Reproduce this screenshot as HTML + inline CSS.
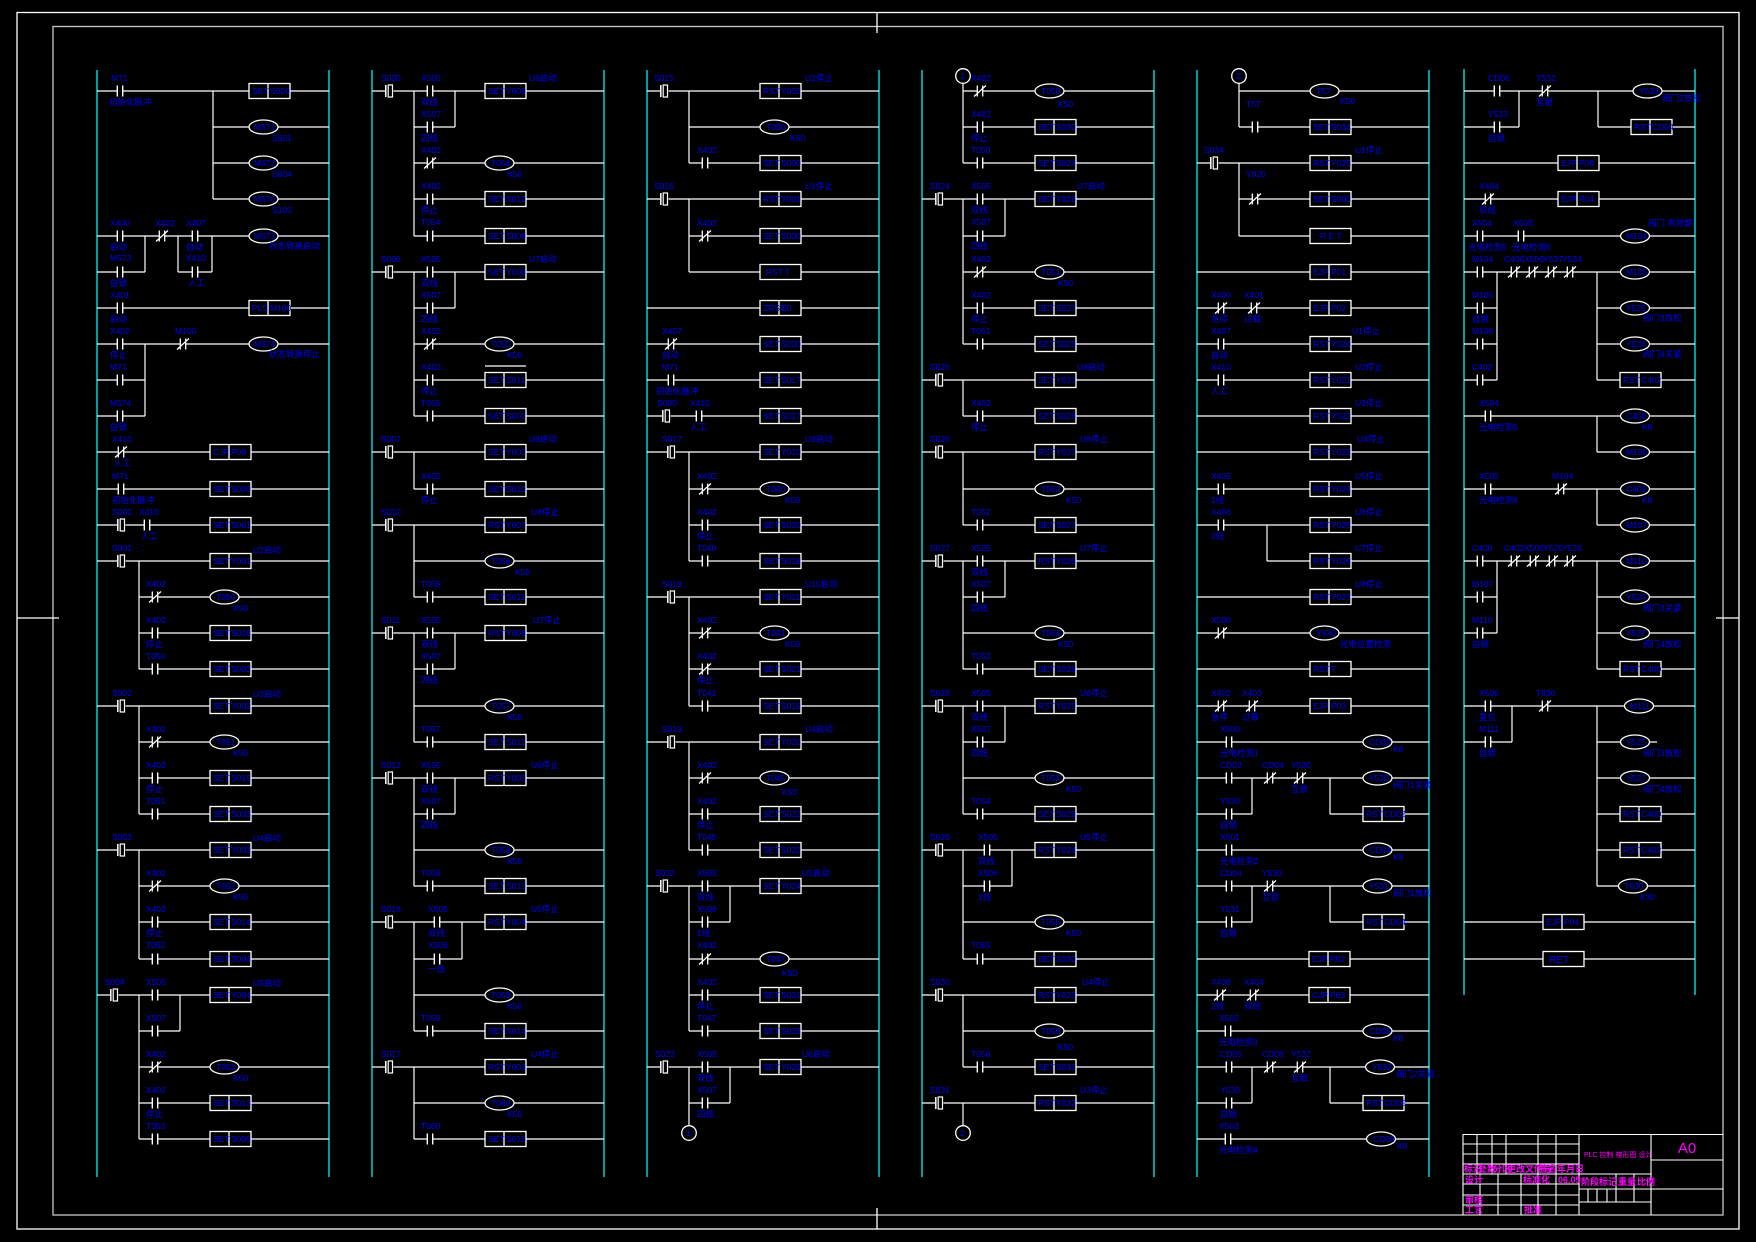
<!DOCTYPE html>
<html><head><meta charset="utf-8"><style>
html,body{margin:0;padding:0;background:#000;}
svg{display:block;}
text{font-family:"Liberation Sans","Noto Sans CJK SC",sans-serif;}
</style></head><body>
<svg width="1756" height="1242" viewBox="0 0 1756 1242" xmlns="http://www.w3.org/2000/svg">
<defs>
<g id="no"><rect x="-3" y="-1.6" width="6" height="3.2" fill="#000"/><path d="M-2.7 -5.5V5.5M2.7 -5.5V5.5" stroke="#fff" stroke-width="1.4"/></g>
<g id="nc"><rect x="-3" y="-1.6" width="6" height="3.2" fill="#000"/><path d="M-2.7 -5.5V5.5M2.7 -5.5V5.5M-6 5.5L6 -5.5" stroke="#fff" stroke-width="1.3"/></g>
<g id="pu"><rect x="-4" y="-1.6" width="8.5" height="3.2" fill="#000"/><path d="M-3.2 -6V6" stroke="#fff" stroke-width="1.5"/><rect x="-0.8" y="-6" width="4.3" height="12" fill="#000" stroke="#fff" stroke-width="1.2"/></g>
<g id="bx"><rect x="0" y="-7.5" width="41" height="15" fill="#000" stroke="#fff" stroke-width="1.3"/><path d="M19 -7.5V7.5" stroke="#fff" stroke-width="1.3"/></g>
<g id="bx0"><rect x="0" y="-7.5" width="41" height="15" fill="#000" stroke="#fff" stroke-width="1.3"/></g>
<ellipse id="el" cx="0" cy="0" rx="14.5" ry="7" fill="#000" stroke="#fff" stroke-width="1.3"/>
</defs>
<rect width="1756" height="1242" fill="#000"/>
<!-- borders -->
<rect x="17" y="12.5" width="1722" height="1216.5" fill="none" stroke="#fff" stroke-width="1.3"/>
<rect x="53" y="26.5" width="1670" height="1188.5" fill="none" stroke="#c8c8c8" stroke-width="1.3"/>
<path d="M877 12V33M877 1208V1229M17 618H59M1716 618H1739" stroke="#fff" stroke-width="1.3"/>

<!-- rails -->
<path d="M97 70V1177M329 70V1177M372 70V1177M604 70V1177M647 70V1177M879 70V1177M922 70V1177M1154 70V1177M1197 70V1177M1429 70V1177M1464 69V995M1695 69V995" stroke="#00e0e8" stroke-width="1.4"/>

<!-- rung lines -->
<path fill="none" stroke="#fff" stroke-width="1.2" d="
M97 91H329M213 91V199M213 127H329M213 163H329M213 199H329
M97 236H329M97 272H145M145 236V272M178 236V272M178 272H212M212 236V272
M97 308H329
M97 344H329M97 380H145M97 416H145M145 344V416
M97 452H329M97 489H329M97 525H329
M97 561H329M139 561V669M139 597H329M139 633H329M139 669H329
M97 706H329M139 706V814M139 742H329M139 778H329M139 814H329
M97 850H329M139 850V959M139 886H329M139 922H329M139 959H329
M97 995H329M139 995V1139M180 995V1031M139 1031H180M139 1067H329M139 1103H329M139 1139H329

M372 91H604M414 91V236M455 91V127M414 127H455M414 163H604M414 199H604M414 236H604
M372 272H604M414 272V416M455 272V308M414 308H455M414 344H604M414 380H604M414 416H604M485 366H526
M372 452H604M414 452V489M414 489H604
M372 525H604M414 525V597M414 561H604M414 597H604
M372 633H604M414 633V742M455 633V669M414 669H455M414 706H604M414 742H604
M372 778H604M414 778V886M455 778V814M414 814H455M414 850H604M414 886H604
M372 922H604M414 922V1031M462 922V959M414 959H462M414 995H604M414 1031H604
M372 1067H604M414 1067V1139M414 1103H604M414 1139H604

M647 91H879M689 91V163M689 127H879M689 163H879
M647 199H879M689 199V272M689 236H879M689 272H879
M647 308H879M647 344H879M647 380H879M647 416H879
M647 452H879M689 452V561M689 489H879M689 525H879M689 561H879
M647 597H879M689 597V706M689 633H879M689 669H879M689 706H879
M647 742H879M689 742V850M689 778H879M689 814H879M689 850H879
M647 886H879M689 886V1031M730 886V922M689 922H730M689 959H879M689 995H879M689 1031H879
M647 1067H879M689 1067V1126M730 1067V1103M689 1103H730

M963 83V163M963 91H1154M963 127H1154M963 163H1154
M922 199H1154M963 199V344M1005 199V236M963 236H1005M963 272H1154M963 308H1154M963 344H1154
M922 380H1154M963 380V416M963 416H1154
M922 452H1154M963 452V525M963 489H1154M963 525H1154
M922 561H1154M963 561V669M1005 561V597M963 597H1005M963 633H1154M963 669H1154
M922 706H1154M963 706V814M1005 706V742M963 742H1005M963 778H1154M963 814H1154
M922 850H1154M963 850V959M1012 850V886M963 886H1012M963 922H1154M963 959H1154
M922 995H1154M963 995V1067M963 1031H1154M963 1067H1154
M922 1103H1154M963 1103V1126

M1239 83V127M1239 91H1429M1239 127H1429
M1197 163H1429M1239 163V236M1239 199H1429M1239 236H1429
M1197 272H1429M1197 308H1429M1197 344H1429M1197 380H1429M1197 416H1429M1197 452H1429M1197 489H1429
M1197 525H1429M1267 525V561M1267 561H1429
M1197 597H1429M1197 633H1429M1197 669H1429M1197 706H1429M1197 742H1429
M1197 778H1429M1252 778V814M1197 814H1252M1330 778V814M1330 814H1429
M1197 850H1429
M1197 886H1429M1252 886V922M1197 922H1252M1330 886V922M1330 922H1429
M1197 959H1429M1197 995H1429M1197 1031H1429
M1197 1067H1429M1252 1067V1103M1197 1103H1252M1330 1067V1103M1330 1103H1429
M1197 1139H1429

M1464 91H1695M1519 91V127M1464 127H1519M1598 91V127M1598 127H1695
M1464 163H1695M1464 199H1695M1464 236H1695
M1464 272H1695M1497 272V380M1464 308H1497M1464 344H1497M1464 380H1497M1597 272V380M1597 308H1695M1597 344H1695M1597 380H1695
M1464 416H1695M1597 416V452M1597 452H1695
M1464 489H1695M1597 489V525M1597 525H1695
M1464 561H1695M1497 561V633M1464 597H1497M1464 633H1497M1597 561V669M1597 597H1695M1597 633H1695M1597 669H1695
M1464 706H1695M1512 706V742M1464 742H1512M1597 706V886M1597 742H1657M1597 778H1695M1597 814H1695M1597 850H1695M1597 886H1695
M1464 922H1695M1464 959H1695
"/>

<!-- circles -->
<g fill="#000" stroke="#fff" stroke-width="1.3">
<circle cx="689" cy="1133" r="7.3"/><circle cx="963" cy="76" r="7.3"/><circle cx="963" cy="1133" r="7.3"/><circle cx="1239" cy="76" r="7.3"/>
</g>

<!-- column 1 symbols -->
<use href="#no" x="120" y="91"/><use href="#bx" x="249" y="91"/>
<use href="#el" x="263.5" y="127"/><use href="#el" x="263.5" y="163"/><use href="#el" x="263.5" y="199"/>
<use href="#no" x="120" y="236"/><use href="#nc" x="162" y="236"/><use href="#no" x="195" y="236"/><use href="#el" x="263.5" y="236"/>
<use href="#no" x="120" y="272"/><use href="#no" x="195" y="272"/>
<use href="#no" x="120" y="308"/><use href="#bx" x="249" y="308"/>
<use href="#no" x="120" y="344"/><use href="#nc" x="183" y="344"/><use href="#el" x="263.5" y="344"/>
<use href="#no" x="120" y="380"/><use href="#no" x="120" y="416"/>
<use href="#nc" x="121" y="452"/><use href="#bx" x="210" y="452"/>
<use href="#no" x="121" y="489"/><use href="#bx" x="210" y="489"/>
<use href="#pu" x="121" y="525"/><use href="#no" x="147" y="525"/><use href="#bx" x="210" y="525"/>
<use href="#pu" x="121" y="561"/><use href="#bx" x="210" y="561"/>
<use href="#nc" x="155" y="597"/><use href="#el" x="224.5" y="597"/>
<use href="#no" x="155" y="633"/><use href="#bx" x="210" y="633"/>
<use href="#no" x="155" y="669"/><use href="#bx" x="210" y="669"/>
<use href="#pu" x="121" y="706"/><use href="#bx" x="210" y="706"/>
<use href="#nc" x="155" y="742"/><use href="#el" x="224.5" y="742"/>
<use href="#no" x="155" y="778"/><use href="#bx" x="210" y="778"/>
<use href="#no" x="155" y="814"/><use href="#bx" x="210" y="814"/>
<use href="#pu" x="121" y="850"/><use href="#bx" x="210" y="850"/>
<use href="#nc" x="155" y="886"/><use href="#el" x="224.5" y="886"/>
<use href="#no" x="155" y="922"/><use href="#bx" x="210" y="922"/>
<use href="#no" x="155" y="959"/><use href="#bx" x="210" y="959"/>
<use href="#pu" x="114" y="995"/><use href="#no" x="155" y="995"/><use href="#bx" x="210" y="995"/>
<use href="#no" x="155" y="1031"/>
<use href="#nc" x="155" y="1067"/><use href="#el" x="224.5" y="1067"/>
<use href="#no" x="155" y="1103"/><use href="#bx" x="210" y="1103"/>
<use href="#no" x="155" y="1139"/><use href="#bx" x="210" y="1139"/>

<!-- column 2 symbols -->
<use href="#pu" x="389" y="91"/><use href="#no" x="430" y="91"/><use href="#bx" x="485" y="91"/>
<use href="#no" x="430" y="127"/>
<use href="#nc" x="430" y="163"/><use href="#el" x="499.5" y="163"/>
<use href="#no" x="430" y="199"/><use href="#bx" x="485" y="199"/>
<use href="#no" x="430" y="236"/><use href="#bx" x="485" y="236"/>
<use href="#pu" x="389" y="272"/><use href="#no" x="430" y="272"/><use href="#bx" x="485" y="272"/>
<use href="#no" x="430" y="308"/>
<use href="#nc" x="430" y="344"/><use href="#el" x="499.5" y="344"/>
<use href="#no" x="430" y="380"/><use href="#bx" x="485" y="380"/>
<use href="#no" x="430" y="416"/><use href="#bx" x="485" y="416"/>
<use href="#pu" x="389" y="452"/><use href="#bx" x="485" y="452"/>
<use href="#no" x="430" y="489"/><use href="#bx" x="485" y="489"/>
<use href="#pu" x="389" y="525"/><use href="#bx" x="485" y="525"/>
<use href="#el" x="499.5" y="561"/>
<use href="#no" x="430" y="597"/><use href="#bx" x="485" y="597"/>
<use href="#pu" x="389" y="633"/><use href="#no" x="430" y="633"/><use href="#bx" x="485" y="633"/>
<use href="#no" x="430" y="669"/>
<use href="#el" x="499.5" y="706"/>
<use href="#no" x="430" y="742"/><use href="#bx" x="485" y="742"/>
<use href="#pu" x="389" y="778"/><use href="#no" x="430" y="778"/><use href="#bx" x="485" y="778"/>
<use href="#no" x="430" y="814"/>
<use href="#el" x="499.5" y="850"/>
<use href="#no" x="430" y="886"/><use href="#bx" x="485" y="886"/>
<use href="#pu" x="389" y="922"/><use href="#no" x="437" y="922"/><use href="#bx" x="485" y="922"/>
<use href="#no" x="437" y="959"/>
<use href="#el" x="499.5" y="995"/>
<use href="#no" x="430" y="1031"/><use href="#bx" x="485" y="1031"/>
<use href="#pu" x="389" y="1067"/><use href="#bx" x="485" y="1067"/>
<use href="#el" x="499.5" y="1103"/>
<use href="#no" x="430" y="1139"/><use href="#bx" x="485" y="1139"/>

<!-- column 3 symbols -->
<use href="#pu" x="664" y="91"/><use href="#bx" x="760" y="91"/>
<use href="#el" x="774.5" y="127"/>
<use href="#no" x="705" y="163"/><use href="#bx" x="760" y="163"/>
<use href="#pu" x="664" y="199"/><use href="#bx" x="760" y="199"/>
<use href="#nc" x="705" y="236"/><use href="#bx" x="760" y="236"/>
<use href="#bx0" x="760" y="272"/>
<use href="#bx" x="760" y="308"/>
<use href="#nc" x="671" y="344"/><use href="#bx" x="760" y="344"/>
<use href="#no" x="671" y="380"/><use href="#bx" x="760" y="380"/>
<use href="#pu" x="666" y="416"/><use href="#no" x="699" y="416"/><use href="#bx" x="760" y="416"/>
<use href="#pu" x="671" y="452"/><use href="#bx" x="760" y="452"/>
<use href="#nc" x="705" y="489"/><use href="#el" x="774.5" y="489"/>
<use href="#no" x="705" y="525"/><use href="#bx" x="760" y="525"/>
<use href="#no" x="705" y="561"/><use href="#bx" x="760" y="561"/>
<use href="#pu" x="671" y="597"/><use href="#bx" x="760" y="597"/>
<use href="#nc" x="705" y="633"/><use href="#el" x="774.5" y="633"/>
<use href="#nc" x="705" y="669"/><use href="#bx" x="760" y="669"/>
<use href="#no" x="705" y="706"/><use href="#bx" x="760" y="706"/>
<use href="#pu" x="671" y="742"/><use href="#bx" x="760" y="742"/>
<use href="#nc" x="705" y="778"/><use href="#el" x="774.5" y="778"/>
<use href="#no" x="705" y="814"/><use href="#bx" x="760" y="814"/>
<use href="#no" x="705" y="850"/><use href="#bx" x="760" y="850"/>
<use href="#pu" x="664" y="886"/><use href="#no" x="705" y="886"/><use href="#bx" x="760" y="886"/>
<use href="#no" x="705" y="922"/>
<use href="#nc" x="705" y="959"/><use href="#el" x="774.5" y="959"/>
<use href="#no" x="705" y="995"/><use href="#bx" x="760" y="995"/>
<use href="#no" x="705" y="1031"/><use href="#bx" x="760" y="1031"/>
<use href="#pu" x="664" y="1067"/><use href="#no" x="705" y="1067"/><use href="#bx" x="760" y="1067"/>
<use href="#no" x="705" y="1103"/>

<!-- column 4 symbols -->
<use href="#nc" x="980" y="91"/><use href="#el" x="1049.5" y="91"/>
<use href="#no" x="980" y="127"/><use href="#bx" x="1035" y="127"/>
<use href="#no" x="980" y="163"/><use href="#bx" x="1035" y="163"/>
<use href="#pu" x="939" y="199"/><use href="#no" x="980" y="199"/><use href="#bx" x="1035" y="199"/>
<use href="#no" x="980" y="236"/>
<use href="#nc" x="980" y="272"/><use href="#el" x="1049.5" y="272"/>
<use href="#no" x="980" y="308"/><use href="#bx" x="1035" y="308"/>
<use href="#no" x="980" y="344"/><use href="#bx" x="1035" y="344"/>
<use href="#pu" x="939" y="380"/><use href="#bx" x="1035" y="380"/>
<use href="#no" x="980" y="416"/><use href="#bx" x="1035" y="416"/>
<use href="#pu" x="939" y="452"/><use href="#bx" x="1035" y="452"/>
<use href="#el" x="1049.5" y="489"/>
<use href="#no" x="980" y="525"/><use href="#bx" x="1035" y="525"/>
<use href="#pu" x="939" y="561"/><use href="#no" x="980" y="561"/><use href="#bx" x="1035" y="561"/>
<use href="#no" x="980" y="597"/>
<use href="#el" x="1049.5" y="633"/>
<use href="#no" x="980" y="669"/><use href="#bx" x="1035" y="669"/>
<use href="#pu" x="939" y="706"/><use href="#no" x="980" y="706"/><use href="#bx" x="1035" y="706"/>
<use href="#no" x="980" y="742"/>
<use href="#el" x="1049.5" y="778"/>
<use href="#no" x="980" y="814"/><use href="#bx" x="1035" y="814"/>
<use href="#pu" x="939" y="850"/><use href="#no" x="987" y="850"/><use href="#bx" x="1035" y="850"/>
<use href="#no" x="987" y="886"/>
<use href="#el" x="1049.5" y="922"/>
<use href="#no" x="980" y="959"/><use href="#bx" x="1035" y="959"/>
<use href="#pu" x="939" y="995"/><use href="#bx" x="1035" y="995"/>
<use href="#el" x="1049.5" y="1031"/>
<use href="#no" x="980" y="1067"/><use href="#bx" x="1035" y="1067"/>
<use href="#pu" x="939" y="1103"/><use href="#bx" x="1035" y="1103"/>

<!-- column 5 symbols -->
<use href="#el" x="1324.5" y="91"/>
<use href="#no" x="1255" y="127"/><use href="#bx" x="1310" y="127"/>
<use href="#pu" x="1214" y="163"/><use href="#bx" x="1310" y="163"/>
<use href="#nc" x="1255" y="199"/><use href="#bx" x="1310" y="199"/>
<use href="#bx0" x="1310" y="236"/>
<use href="#bx" x="1310" y="272"/>
<use href="#nc" x="1221" y="308"/><use href="#nc" x="1254" y="308"/><use href="#bx" x="1310" y="308"/>
<use href="#no" x="1221" y="344"/><use href="#bx" x="1310" y="344"/>
<use href="#no" x="1221" y="380"/><use href="#bx" x="1310" y="380"/>
<use href="#bx" x="1310" y="416"/>
<use href="#bx" x="1310" y="452"/>
<use href="#no" x="1221" y="489"/><use href="#bx" x="1310" y="489"/>
<use href="#no" x="1221" y="525"/><use href="#bx" x="1310" y="525"/>
<use href="#bx" x="1310" y="561"/>
<use href="#bx" x="1310" y="597"/>
<use href="#nc" x="1221" y="633"/><use href="#el" x="1324.5" y="633"/>
<use href="#bx" x="1310" y="669"/>
<use href="#nc" x="1221" y="706"/><use href="#nc" x="1252" y="706"/><use href="#bx" x="1310" y="706"/>
<use href="#no" x="1229" y="742"/><use href="#el" x="1377.5" y="742"/>
<use href="#no" x="1229" y="778"/><use href="#nc" x="1270" y="778"/><use href="#nc" x="1300" y="778"/><use href="#el" x="1377.5" y="778"/>
<use href="#no" x="1229" y="814"/><use href="#bx" x="1363" y="814"/>
<use href="#no" x="1229" y="850"/><use href="#el" x="1377.5" y="850"/>
<use href="#no" x="1229" y="886"/><use href="#nc" x="1270" y="886"/><use href="#el" x="1377.5" y="886"/>
<use href="#no" x="1229" y="922"/><use href="#bx" x="1363" y="922"/>
<use href="#bx" x="1309" y="959"/>
<use href="#nc" x="1220" y="995"/><use href="#nc" x="1253" y="995"/><use href="#bx" x="1309" y="995"/>
<use href="#no" x="1228" y="1031"/><use href="#el" x="1377.5" y="1031"/>
<use href="#no" x="1229" y="1067"/><use href="#nc" x="1270" y="1067"/><use href="#nc" x="1300" y="1067"/><use href="#el" x="1380" y="1067"/>
<use href="#no" x="1229" y="1103"/><use href="#bx" x="1363" y="1103"/>
<use href="#no" x="1228" y="1139"/><use href="#el" x="1381" y="1139"/>

<!-- column 6 symbols -->
<use href="#no" x="1497" y="91"/><use href="#nc" x="1545" y="91"/><use href="#el" x="1647.5" y="91"/>
<use href="#no" x="1497" y="127"/><use href="#bx" x="1631" y="127"/>
<use href="#bx" x="1558" y="163"/>
<use href="#nc" x="1488" y="199"/><use href="#bx" x="1558" y="199"/>
<use href="#no" x="1480" y="236"/><use href="#no" x="1521" y="236"/><use href="#el" x="1635" y="236"/>
<use href="#no" x="1480" y="272"/><use href="#nc" x="1514" y="272"/><use href="#nc" x="1532" y="272"/><use href="#nc" x="1551" y="272"/><use href="#nc" x="1570" y="272"/><use href="#el" x="1635" y="272"/>
<use href="#no" x="1480" y="308"/><use href="#el" x="1635" y="308"/>
<use href="#no" x="1480" y="344"/><use href="#el" x="1635" y="344"/>
<use href="#no" x="1480" y="380"/><use href="#bx" x="1620" y="380"/>
<use href="#no" x="1488" y="416"/><use href="#el" x="1635" y="416"/>
<use href="#el" x="1635" y="452"/>
<use href="#no" x="1488" y="489"/><use href="#nc" x="1561" y="489"/><use href="#el" x="1635" y="489"/>
<use href="#el" x="1635" y="525"/>
<use href="#no" x="1480" y="561"/><use href="#nc" x="1514" y="561"/><use href="#nc" x="1533" y="561"/><use href="#nc" x="1552" y="561"/><use href="#nc" x="1570" y="561"/><use href="#el" x="1635" y="561"/>
<use href="#no" x="1480" y="597"/><use href="#el" x="1635" y="597"/>
<use href="#no" x="1480" y="633"/><use href="#el" x="1635" y="633"/>
<use href="#bx" x="1620" y="669"/>
<use href="#no" x="1488" y="706"/><use href="#nc" x="1545" y="706"/><use href="#el" x="1639" y="706"/>
<use href="#no" x="1488" y="742"/><use href="#el" x="1635" y="742"/>
<use href="#el" x="1635" y="778"/>
<use href="#bx" x="1620" y="814"/>
<use href="#bx" x="1620" y="850"/>
<use href="#el" x="1633" y="886"/>
<use href="#bx" x="1543" y="922"/>
<use href="#bx0" x="1543" y="959"/>

<!-- blue text -->
<g fill="#0000ff" font-size="8.5">
<!-- col1 -->
<text x="252" y="94">SET</text><text x="270" y="94">S000</text>
<text x="254" y="130">M571</text><text x="254" y="166">M572</text><text x="254" y="202">M570</text>
<text x="254" y="239">M573</text><text x="254" y="347">M574</text>
<text x="252" y="311">PLS</text><text x="270" y="311">M100</text>
<text x="272" y="141">S601</text><text x="272" y="177">S604</text><text x="272" y="213">S100</text>
<text x="269" y="249">状态转换启动</text><text x="269" y="357">状态转换停止</text>
<text x="111" y="81">M71</text><text x="109" y="105">初始化脉冲</text>
<text x="110" y="226">X400</text><text x="110" y="250">启动</text><text x="110" y="261">M573</text><text x="110" y="286">自锁</text>
<text x="155" y="226">X402</text><text x="186" y="226">X407</text><text x="186" y="250">自动</text><text x="186" y="261">X410</text><text x="188" y="286">人工</text>
<text x="110" y="298">X401</text><text x="110" y="322">启动</text><text x="110" y="334">X402</text><text x="110" y="358">停止</text>
<text x="110" y="370">M71</text><text x="110" y="406">M574</text><text x="175" y="334">M100</text>
<text x="110" y="430">自锁</text><text x="112" y="442">X410</text><text x="114" y="466">人工</text>
<text x="112" y="479">M71</text><text x="112" y="503">初始化脉冲</text>
<text x="112" y="515">S000</text><text x="139" y="515">X410</text><text x="141" y="539">人工</text>
<text x="112" y="551">S001</text><text x="112" y="696">S002</text><text x="112" y="840">S003</text><text x="105" y="985">S004</text>
<text x="146" y="587">X402</text><text x="146" y="623">X402</text><text x="146" y="647">停止</text><text x="146" y="659">T050</text>
<text x="146" y="732">X402</text><text x="146" y="768">X402</text><text x="146" y="792">停止</text><text x="146" y="804">T051</text>
<text x="146" y="876">X402</text><text x="146" y="912">X402</text><text x="146" y="936">停止</text><text x="146" y="948">T052</text>
<text x="146" y="985">X505</text><text x="146" y="1021">X507</text><text x="146" y="1057">X402</text><text x="146" y="1093">X402</text><text x="146" y="1117">停止</text><text x="146" y="1129">T053</text>
<text x="213" y="455">CJP</text><text x="231" y="455">P00</text>
<text x="213" y="492">SET</text><text x="231" y="492">S000</text>
<text x="213" y="528">SET</text><text x="231" y="528">S001</text>
<text x="213" y="564">SET</text><text x="231" y="564">Y001</text><text x="253" y="553">U2启动</text>
<text x="216" y="600">T050</text><text x="233" y="611">K50</text>
<text x="213" y="636">SET</text><text x="231" y="636">S016</text>
<text x="213" y="672">SET</text><text x="231" y="672">S002</text>
<text x="213" y="709">SET</text><text x="231" y="709">Y002</text><text x="253" y="697">U3启动</text>
<text x="216" y="745">T051</text><text x="233" y="756">K50</text>
<text x="213" y="781">SET</text><text x="231" y="781">S015</text>
<text x="213" y="817">SET</text><text x="231" y="817">S003</text>
<text x="213" y="853">SET</text><text x="231" y="853">Y003</text><text x="253" y="841">U4启动</text>
<text x="216" y="889">T052</text><text x="233" y="900">K50</text>
<text x="213" y="925">SET</text><text x="231" y="925">S014</text>
<text x="213" y="962">SET</text><text x="231" y="962">S004</text>
<text x="213" y="998">SET</text><text x="231" y="998">Y004</text><text x="253" y="986">U5启动</text>
<text x="216" y="1070">T053</text><text x="233" y="1081">K50</text>
<text x="213" y="1106">SET</text><text x="231" y="1106">S013</text>
<text x="213" y="1142">SET</text><text x="231" y="1142">S005</text>
<!-- col2 -->
<text x="381" y="81">S005</text><text x="421" y="81">X505</text><text x="421" y="105">双线</text><text x="421" y="117">X507</text><text x="421" y="141">四线</text>
<text x="421" y="153">X402</text><text x="421" y="189">X402</text><text x="421" y="213">停止</text><text x="421" y="225">T054</text>
<text x="381" y="262">S006</text><text x="421" y="262">X505</text><text x="421" y="286">双线</text><text x="421" y="298">X507</text><text x="421" y="322">四线</text>
<text x="421" y="334">X402</text><text x="421" y="370">X402</text><text x="421" y="394">停止</text><text x="421" y="406">T055</text>
<text x="381" y="442">S007</text><text x="421" y="479">X402</text><text x="421" y="503">停止</text>
<text x="381" y="515">S010</text><text x="421" y="587">T056</text>
<text x="381" y="623">S011</text><text x="421" y="623">X505</text><text x="421" y="647">双线</text><text x="421" y="659">X507</text><text x="421" y="683">四线</text><text x="421" y="732">T057</text>
<text x="381" y="768">S012</text><text x="421" y="768">X505</text><text x="421" y="792">双线</text><text x="421" y="804">X507</text><text x="421" y="828">四线</text><text x="421" y="876">T058</text>
<text x="381" y="912">S016</text><text x="428" y="912">X505</text><text x="428" y="936">双线</text><text x="428" y="948">X506</text><text x="428" y="972">一线</text><text x="421" y="1021">T059</text>
<text x="381" y="1057">S017</text><text x="421" y="1129">T060</text>
<text x="488" y="94">SET</text><text x="506" y="94">Y005</text><text x="529" y="81">U6启动</text>
<text x="491" y="166">T054</text><text x="507" y="177">K50</text>
<text x="488" y="202">SET</text><text x="506" y="202">S012</text>
<text x="488" y="239">SET</text><text x="506" y="239">S006</text>
<text x="488" y="275">SET</text><text x="506" y="275">Y006</text><text x="529" y="262">U7启动</text>
<text x="491" y="347">T055</text><text x="507" y="358">K50</text>
<text x="488" y="383">SET</text><text x="506" y="383">S011</text>
<text x="488" y="419">SET</text><text x="506" y="419">S007</text>
<text x="488" y="455">SET</text><text x="506" y="455">Y007</text><text x="529" y="442">U8启动</text>
<text x="488" y="492">SET</text><text x="506" y="492">S010</text>
<text x="488" y="528">RST</text><text x="506" y="528">Y007</text><text x="531" y="515">U8停止</text>
<text x="491" y="564">T056</text><text x="515" y="575">K50</text>
<text x="488" y="600">SET</text><text x="506" y="600">S011</text>
<text x="488" y="636">RST</text><text x="506" y="636">Y006</text><text x="533" y="623">U7停止</text>
<text x="491" y="709">T057</text><text x="507" y="720">K50</text>
<text x="488" y="745">SET</text><text x="506" y="745">S012</text>
<text x="488" y="781">RST</text><text x="506" y="781">Y005</text><text x="531" y="768">U6停止</text>
<text x="491" y="853">T058</text><text x="507" y="864">K50</text>
<text x="488" y="889">SET</text><text x="506" y="889">S013</text>
<text x="488" y="925">RST</text><text x="506" y="925">Y004</text><text x="531" y="912">U5停止</text>
<text x="491" y="998">T059</text><text x="507" y="1009">K50</text>
<text x="488" y="1034">SET</text><text x="506" y="1034">S014</text>
<text x="488" y="1070">RST</text><text x="506" y="1070">Y003</text><text x="531" y="1057">U4停止</text>
<text x="491" y="1106">T060</text><text x="507" y="1117">K50</text>
<text x="488" y="1142">SET</text><text x="506" y="1142">S015</text>
<!-- col3 -->
<text x="654" y="81">S015</text><text x="654" y="189">S016</text><text x="697" y="153">X402</text><text x="697" y="226">X402</text>
<text x="763" y="94">RST</text><text x="781" y="94">Y002</text><text x="805" y="81">U2停止</text>
<text x="766" y="130">T000</text><text x="790" y="141">K50</text>
<text x="763" y="166">SET</text><text x="781" y="166">S000</text>
<text x="763" y="202">RST</text><text x="781" y="202">Y001</text><text x="805" y="189">U1停止</text>
<text x="763" y="239">SET</text><text x="781" y="239">S000</text>
<text x="766" y="275">RST  T</text>
<text x="763" y="311">ZRST</text><text x="781" y="311">S0</text>
<text x="662" y="334">X407</text><text x="662" y="358">自动</text>
<text x="763" y="347">SET</text><text x="781" y="347">S000</text>
<text x="662" y="370">M71</text><text x="656" y="394">初始化脉冲</text>
<text x="763" y="383">SET</text><text x="781" y="383">S017</text>
<text x="657" y="406">S000</text><text x="690" y="406">X410</text><text x="690" y="430">人工</text>
<text x="763" y="419">SET</text><text x="781" y="419">S017</text>
<text x="662" y="442">S017</text><text x="805" y="442">U9启动</text>
<text x="763" y="455">SET</text><text x="781" y="455">Y010</text>
<text x="697" y="479">X402</text><text x="766" y="492">T040</text><text x="785" y="503">K50</text>
<text x="697" y="515">X402</text><text x="697" y="539">停止</text><text x="697" y="551">T040</text>
<text x="763" y="528">SET</text><text x="781" y="528">S020</text>
<text x="763" y="564">SET</text><text x="781" y="564">S018</text>
<text x="662" y="587">S018</text><text x="805" y="587">U10启动</text>
<text x="763" y="600">SET</text><text x="781" y="600">Y011</text>
<text x="697" y="623">X402</text><text x="766" y="636">T041</text><text x="785" y="647">K50</text>
<text x="697" y="659">X402</text><text x="697" y="683">停止</text><text x="697" y="696">T041</text>
<text x="763" y="672">SET</text><text x="781" y="672">S021</text>
<text x="763" y="709">SET</text><text x="781" y="709">S019</text>
<text x="662" y="732">S019</text><text x="805" y="732">U4启动</text>
<text x="763" y="745">SET</text><text x="781" y="745">Y020</text>
<text x="697" y="768">X402</text><text x="766" y="781">T045</text><text x="782" y="795">K50</text>
<text x="697" y="804">X402</text><text x="697" y="828">停止</text><text x="697" y="840">T045</text>
<text x="763" y="817">SET</text><text x="781" y="817">S022</text>
<text x="763" y="853">SET</text><text x="781" y="853">S022</text>
<text x="655" y="876">S022</text><text x="697" y="876">X505</text><text x="697" y="900">双线</text><text x="697" y="912">X506</text><text x="697" y="936">1线</text>
<text x="763" y="889">SET</text><text x="781" y="889">Y024</text><text x="802" y="876">U5启动</text>
<text x="697" y="948">X402</text><text x="766" y="962">T047</text><text x="782" y="976">K50</text>
<text x="697" y="985">X402</text><text x="697" y="1009">停止</text><text x="697" y="1021">T047</text>
<text x="763" y="998">SET</text><text x="781" y="998">S031</text>
<text x="763" y="1034">SET</text><text x="781" y="1034">S023</text>
<text x="655" y="1057">S023</text><text x="697" y="1057">X505</text><text x="697" y="1081">双线</text><text x="697" y="1093">X507</text><text x="697" y="1117">四线</text>
<text x="763" y="1070">SET</text><text x="781" y="1070">Y025</text><text x="802" y="1057">U6启动</text>
<text x="686" y="1136">1</text>
<!-- col4 -->
<text x="960" y="79">1</text><text x="960" y="1136">2</text><text x="1236" y="79">2</text>
<text x="971" y="81">X402</text><text x="1041" y="94">T050</text><text x="1058" y="107">K50</text>
<text x="971" y="117">X402</text><text x="1038" y="130">SET</text><text x="1056" y="130">S030</text>
<text x="971" y="141">停止</text><text x="971" y="153">T050</text><text x="1038" y="166">SET</text><text x="1056" y="166">S024</text>
<text x="930" y="189">S024</text><text x="971" y="189">X505</text><text x="971" y="213">双线</text><text x="971" y="225">X507</text><text x="971" y="249">四线</text>
<text x="1038" y="202">SET</text><text x="1056" y="202">Y026</text><text x="1077" y="189">U7启动</text>
<text x="971" y="262">X402</text><text x="1041" y="275">T051</text><text x="1058" y="286">K50</text>
<text x="971" y="298">X402</text><text x="971" y="322">停止</text><text x="971" y="334">T051</text>
<text x="1038" y="311">SET</text><text x="1056" y="311">S027</text>
<text x="1038" y="347">SET</text><text x="1056" y="347">S025</text>
<text x="930" y="370">S025</text><text x="1038" y="383">SET</text><text x="1056" y="383">Y027</text><text x="1077" y="370">U8启动</text>
<text x="971" y="406">X402</text><text x="971" y="430">停止</text><text x="1038" y="419">SET</text><text x="1056" y="419">S026</text>
<text x="930" y="442">S026</text><text x="1038" y="455">RST</text><text x="1056" y="455">Y027</text><text x="1080" y="442">U8停止</text>
<text x="1041" y="492">T052</text><text x="1066" y="503">K50</text>
<text x="971" y="515">T052</text><text x="1038" y="528">SET</text><text x="1056" y="528">S027</text>
<text x="930" y="551">S027</text><text x="971" y="551">X505</text><text x="971" y="575">双线</text><text x="971" y="587">X507</text><text x="971" y="611">四线</text>
<text x="1038" y="564">RST</text><text x="1056" y="564">Y026</text><text x="1080" y="551">U7停止</text>
<text x="1041" y="636">T053</text><text x="1058" y="647">K50</text>
<text x="971" y="659">T053</text><text x="1038" y="672">SET</text><text x="1056" y="672">S028</text>
<text x="930" y="696">S028</text><text x="971" y="696">X505</text><text x="971" y="720">双线</text><text x="971" y="732">X507</text><text x="971" y="756">四线</text>
<text x="1038" y="709">RST</text><text x="1056" y="709">Y025</text><text x="1080" y="696">U6停止</text>
<text x="1041" y="781">T054</text><text x="1066" y="792">K50</text>
<text x="971" y="804">T054</text><text x="1038" y="817">SET</text><text x="1056" y="817">S029</text>
<text x="930" y="840">S029</text><text x="978" y="840">X505</text><text x="978" y="864">双线</text><text x="978" y="876">X506</text><text x="978" y="900">1线</text>
<text x="1038" y="853">RST</text><text x="1056" y="853">Y024</text><text x="1080" y="840">U5停止</text>
<text x="1041" y="925">T055</text><text x="1066" y="936">K50</text>
<text x="971" y="948">T055</text><text x="1038" y="962">SET</text><text x="1056" y="962">S030</text>
<text x="930" y="985">S030</text><text x="1038" y="998">RST</text><text x="1056" y="998">Y023</text><text x="1082" y="985">U4停止</text>
<text x="1041" y="1034">T056</text><text x="1058" y="1050">K50</text>
<text x="971" y="1057">T056</text><text x="1038" y="1070">SET</text><text x="1056" y="1070">S031</text>
<text x="930" y="1093">S031</text><text x="1038" y="1106">RST</text><text x="1056" y="1106">Y022</text><text x="1080" y="1093">U3停止</text>
<!-- col5 -->
<text x="1316" y="94">T57</text><text x="1340" y="104">K50</text>
<text x="1246" y="107">T57</text><text x="1313" y="130">SET</text><text x="1331" y="130">S034</text>
<text x="1204" y="153">S034</text><text x="1313" y="166">RST</text><text x="1331" y="166">Y020</text><text x="1355" y="153">U1停止</text>
<text x="1246" y="177">Y020</text><text x="1313" y="202">SET</text><text x="1331" y="202">S000</text>
<text x="1320" y="239">R E T</text>
<text x="1313" y="275">EJP</text><text x="1331" y="275">P01</text>
<text x="1211" y="298">X400</text><text x="1244" y="298">X401</text><text x="1211" y="322">急停</text><text x="1244" y="322">过载</text>
<text x="1313" y="311">EJP</text><text x="1331" y="311">P02</text>
<text x="1211" y="334">X407</text><text x="1211" y="358">自动</text><text x="1313" y="347">RST</text><text x="1331" y="347">Y020</text><text x="1352" y="334">U1停止</text>
<text x="1211" y="370">X410</text><text x="1211" y="394">人工</text><text x="1313" y="383">RST</text><text x="1331" y="383">Y021</text><text x="1355" y="370">U2停止</text>
<text x="1313" y="419">RST</text><text x="1331" y="419">Y022</text><text x="1355" y="406">U3停止</text>
<text x="1313" y="455">RST</text><text x="1331" y="455">Y023</text><text x="1357" y="442">U4停止</text>
<text x="1211" y="479">X405</text><text x="1211" y="503">1线</text><text x="1313" y="492">RST</text><text x="1331" y="492">Y024</text><text x="1355" y="479">U5停止</text>
<text x="1211" y="515">X406</text><text x="1211" y="539">2线</text><text x="1313" y="528">RST</text><text x="1331" y="528">Y025</text><text x="1355" y="515">U6停止</text>
<text x="1313" y="564">RST</text><text x="1331" y="564">Y026</text><text x="1355" y="551">U7停止</text>
<text x="1313" y="600">RST</text><text x="1331" y="600">Y027</text><text x="1355" y="587">U8停止</text>
<text x="1211" y="623">X500</text><text x="1316" y="636">Y530</text><text x="1340" y="647">光电位置检测</text>
<text x="1313" y="672">RST</text><text x="1331" y="672">T</text>
<text x="1211" y="696">X402</text><text x="1242" y="696">X403</text><text x="1211" y="720">急停</text><text x="1242" y="720">过载</text>
<text x="1313" y="709">EJP</text><text x="1331" y="709">P03</text>
<text x="1220" y="732">X500</text><text x="1220" y="756">光电检测1</text><text x="1369" y="745">CD02</text><text x="1393" y="752">K8</text>
<text x="1220" y="768">CD02</text><text x="1262" y="768">CD04</text><text x="1291" y="768">Y530</text><text x="1291" y="792">互锁</text>
<text x="1369" y="781">Y530</text><text x="1393" y="788">阀门1关紧</text>
<text x="1220" y="804">Y530</text><text x="1220" y="828">自锁</text><text x="1366" y="817">RST</text><text x="1384" y="817">CD02</text>
<text x="1220" y="840">X501</text><text x="1220" y="864">光电检测2</text><text x="1369" y="853">CD04</text><text x="1393" y="860">K8</text>
<text x="1220" y="876">CD04</text><text x="1262" y="876">Y530</text><text x="1262" y="900">互锁</text><text x="1369" y="889">Y531</text><text x="1393" y="896">阀门1放松</text>
<text x="1220" y="912">Y531</text><text x="1220" y="936">自锁</text><text x="1366" y="925">RST</text><text x="1384" y="925">CD04</text>
<text x="1312" y="962">EJP</text><text x="1330" y="962">P02</text>
<text x="1211" y="985">X406</text><text x="1244" y="985">X404</text><text x="1211" y="1009">2线</text><text x="1244" y="1009">双线</text>
<text x="1312" y="998">CJP</text><text x="1330" y="998">P03</text>
<text x="1219" y="1021">X502</text><text x="1219" y="1045">光电检测3</text><text x="1369" y="1034">CD05</text><text x="1393" y="1041">K8</text>
<text x="1220" y="1057">CD05</text><text x="1262" y="1057">CD06</text><text x="1291" y="1057">Y532</text><text x="1291" y="1081">互锁</text>
<text x="1372" y="1070">Y532</text><text x="1396" y="1077">阀门2关紧</text>
<text x="1220" y="1093">Y530</text><text x="1220" y="1117">自锁</text><text x="1366" y="1106">RST</text><text x="1384" y="1106">CD05</text>
<text x="1219" y="1129">X503</text><text x="1219" y="1153">光电检测4</text><text x="1373" y="1142">CD06</text><text x="1397" y="1149">K8</text>
<!-- col6 -->
<text x="1488" y="81">CD06</text><text x="1536" y="81">Y532</text><text x="1536" y="105">互锁</text>
<text x="1639" y="94">Y533</text><text x="1662" y="101">阀门2放松</text>
<text x="1488" y="117">Y533</text><text x="1488" y="141">自锁</text><text x="1634" y="130">RST</text><text x="1652" y="130">CD04</text>
<text x="1561" y="166">EJP</text><text x="1579" y="166">P08</text>
<text x="1479" y="189">X404</text><text x="1479" y="213">双线</text><text x="1561" y="202">EJP</text><text x="1579" y="202">P04</text>
<text x="1472" y="226">X504</text><text x="1513" y="226">X505</text><text x="1468" y="250">光电检测5</text><text x="1512" y="250">光电检测6</text>
<text x="1648" y="226">阀门 有效期</text><text x="1626" y="239">M104</text>
<text x="1472" y="262">M104</text><text x="1504" y="262">C400</text><text x="1524" y="262">X506</text><text x="1543" y="262">Y537</text><text x="1562" y="262">Y534</text>
<text x="1626" y="275">M105</text><text x="1472" y="298">M105</text><text x="1472" y="322">自锁</text><text x="1626" y="311">Y525</text><text x="1643" y="321">阀门3放松</text>
<text x="1472" y="334">M106</text><text x="1626" y="347">Y526</text><text x="1643" y="357">阀门4关紧</text>
<text x="1472" y="370">C402</text><text x="1623" y="383">RST</text><text x="1641" y="383">C402</text>
<text x="1479" y="406">X504</text><text x="1479" y="430">光电检测5</text><text x="1626" y="419">C400</text><text x="1642" y="430">K8</text>
<text x="1626" y="455">M106</text>
<text x="1479" y="479">X505</text><text x="1479" y="503">光电检测6</text><text x="1552" y="479">M104</text>
<text x="1626" y="492">C402</text><text x="1642" y="503">K8</text><text x="1626" y="528">M107</text>
<text x="1472" y="551">C400</text><text x="1504" y="551">C402</text><text x="1524" y="551">X506</text><text x="1543" y="551">Y525</text><text x="1562" y="551">Y526</text>
<text x="1626" y="564">M110</text>
<text x="1472" y="587">M107</text><text x="1626" y="600">Y524</text><text x="1643" y="611">阀门3关紧</text>
<text x="1472" y="623">M110</text><text x="1472" y="647">自锁</text><text x="1626" y="636">Y527</text><text x="1643" y="647">阀门4放松</text>
<text x="1623" y="672">RST</text><text x="1641" y="672">C400</text>
<text x="1479" y="696">X506</text><text x="1479" y="720">复位</text><text x="1536" y="696">T630</text><text x="1630" y="709">M111</text>
<text x="1479" y="732">M111</text><text x="1479" y="756">自锁</text><text x="1626" y="745">Y525</text><text x="1643" y="756">阀门3放松</text>
<text x="1626" y="781">Y527</text><text x="1643" y="792">阀门4放松</text>
<text x="1623" y="817">RST</text><text x="1641" y="817">C400</text>
<text x="1623" y="853">RST</text><text x="1641" y="853">C402</text>
<text x="1624" y="889">T630</text><text x="1640" y="900">K30</text>
<text x="1546" y="925">EJP</text><text x="1564" y="925">P04</text>
<text x="1549" y="963" font-size="10">RET</text>
</g>

<!-- title block -->
<g fill="none" stroke="#fff" stroke-width="1.1">
<path d="M1463 1134.5H1723M1463 1134V1215"/>
<path d="M1463 1144H1579M1463 1154H1579M1463 1164H1579M1463 1174H1579M1463 1184H1579M1463 1195H1579M1463 1205H1579"/>
<path d="M1477 1134V1174M1492 1134V1174M1506 1134V1174M1480 1174V1215M1498 1174V1215M1521 1174V1215M1538 1134V1215M1556 1134V1215"/>
<path d="M1579 1134V1215M1651 1134V1215"/>
<path d="M1579 1174H1651M1579 1189H1651M1579 1202H1651M1616 1174V1202M1634 1174V1202M1588 1189V1202M1597 1189V1202M1607 1189V1202"/>
<path d="M1651 1160H1723M1651 1189H1723"/>
</g>
<g fill="#ff00ff" font-size="9" font-weight="bold">
<text x="1464" y="1172">标记</text><text x="1478" y="1172">处数</text><text x="1493" y="1172">分区</text><text x="1507" y="1172">更改文件号</text><text x="1539" y="1172">签名</text><text x="1557" y="1172">年月日</text>
<text x="1465" y="1183">设计</text><text x="1523" y="1183">标准化</text><text x="1558" y="1183">06.05</text>
<text x="1465" y="1203">审核</text><text x="1465" y="1213">工艺</text><text x="1524" y="1213">批准</text>
<text x="1581" y="1185">阶段标记</text><text x="1618" y="1185">重量</text><text x="1637" y="1185">比例</text>
<text x="1584" y="1157" font-size="7" font-weight="normal">PLC 控制 梯形图 设计</text>
</g>
<text x="1687" y="1153" fill="#ff00ff" font-size="15" text-anchor="middle">A0</text>
</svg>
</body></html>
